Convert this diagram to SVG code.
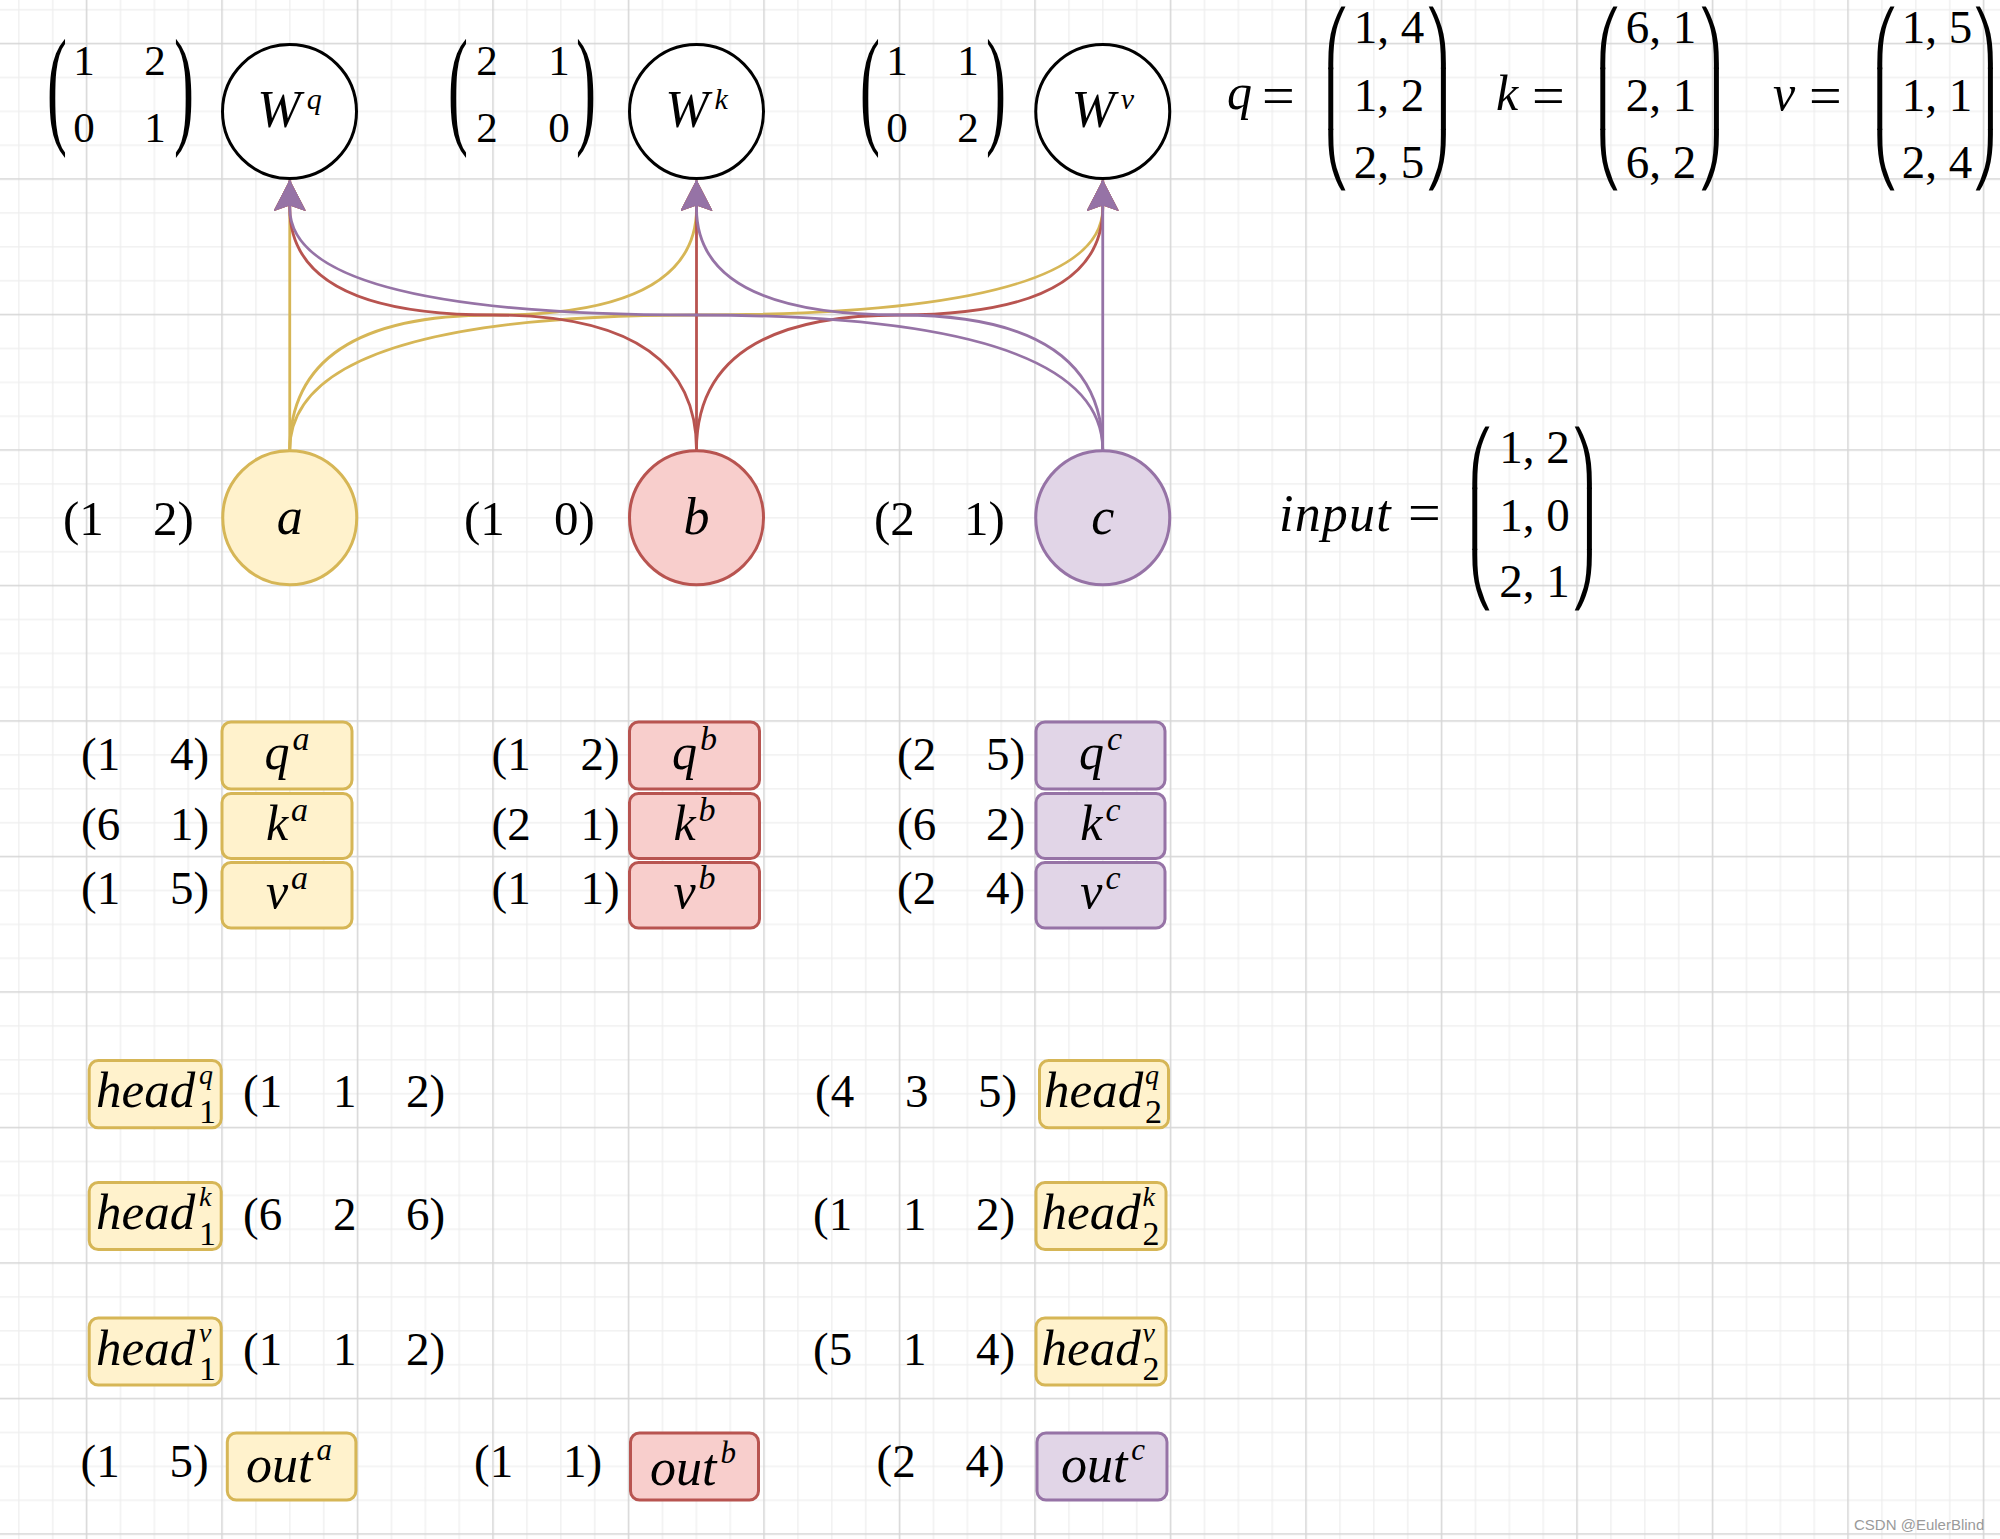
<svg xmlns="http://www.w3.org/2000/svg" width="2000" height="1539" viewBox="0 0 2000 1539">
<defs>
<pattern id="grid" x="85.75" y="42.75" width="135.5" height="135.5" patternUnits="userSpaceOnUse">
<rect x="0" y="0" width="135.5" height="135.5" fill="#ffffff"/>
<rect x="34.1" y="0" width="1.2" height="135.5" fill="#eeeeee"/>
<rect x="68" y="0" width="1.2" height="135.5" fill="#eeeeee"/>
<rect x="101.9" y="0" width="1.2" height="135.5" fill="#eeeeee"/>
<rect x="0" y="34.1" width="135.5" height="1.2" fill="#eeeeee"/>
<rect x="0" y="68" width="135.5" height="1.2" fill="#eeeeee"/>
<rect x="0" y="101.9" width="135.5" height="1.2" fill="#eeeeee"/>
<rect x="0" y="0" width="1.5" height="135.5" fill="#d6d6d6"/>
<rect x="0" y="0" width="135.5" height="1.5" fill="#d6d6d6"/>
</pattern>
<marker id="ay" markerUnits="userSpaceOnUse" viewBox="0 0 32 32" markerWidth="32" markerHeight="32" refX="30" refY="16" orient="auto"><path d="M30,16 L0,0.5 L5.5,16 L0,31.5 Z" fill="#d6b656" stroke="#d6b656" stroke-width="1"/></marker>
<marker id="ar" markerUnits="userSpaceOnUse" viewBox="0 0 32 32" markerWidth="32" markerHeight="32" refX="30" refY="16" orient="auto"><path d="M30,16 L0,0.5 L5.5,16 L0,31.5 Z" fill="#b85450" stroke="#b85450" stroke-width="1"/></marker>
<marker id="ap" markerUnits="userSpaceOnUse" viewBox="0 0 32 32" markerWidth="32" markerHeight="32" refX="30" refY="16" orient="auto"><path d="M30,16 L0,0.5 L5.5,16 L0,31.5 Z" fill="#9673a6" stroke="#9673a6" stroke-width="1"/></marker>
</defs>
<style>
.cw{fill:#ffffff;stroke:#000000;stroke-width:3}
.ny{fill:#fff2cc;stroke:#d6b656;stroke-width:3}
.nr{fill:#f8cecc;stroke:#b85450;stroke-width:3}
.np{fill:#e1d5e7;stroke:#9673a6;stroke-width:3}
.mi{font-family:"Liberation Serif","DejaVu Serif",serif;font-style:italic;fill:#000000}
.mn{font-family:"Liberation Serif","DejaVu Serif",serif;fill:#000000}
.bp{font-family:"DejaVu Sans","DejaVu Serif",sans-serif;font-size:52.4px;fill:#000000}
.up{font-style:normal}
.e{fill:none;stroke-width:2.8}
.ey{stroke:#d6b656;marker-end:url(#ay)}
.er{stroke:#b85450;marker-end:url(#ar)}
.ep{stroke:#9673a6;marker-end:url(#ap)}
.v46{font-size:47px}
.v48{font-size:49px}
</style>
<rect x="0" y="0" width="2000" height="1539" fill="url(#grid)"/>

<!-- weight matrices -->
<g id="mat-wq">
<text class="mn" transform="translate(47,130.4) scale(1,2.177)" font-size="60">(</text>
<text class="mn" x="84" y="75" font-size="43" text-anchor="middle">1</text>
<text class="mn" x="155" y="75" font-size="43" text-anchor="middle">2</text>
<text class="mn" x="84" y="141.5" font-size="43" text-anchor="middle">0</text>
<text class="mn" x="155" y="141.5" font-size="43" text-anchor="middle">1</text>
<text class="mn" transform="translate(174,130.4) scale(1,2.177)" font-size="60">)</text>
</g>
<g id="mat-wk">
<text class="mn" transform="translate(448,130.4) scale(1,2.177)" font-size="60">(</text>
<text class="mn" x="487" y="75" font-size="43" text-anchor="middle">2</text>
<text class="mn" x="559" y="75" font-size="43" text-anchor="middle">1</text>
<text class="mn" x="487" y="141.5" font-size="43" text-anchor="middle">2</text>
<text class="mn" x="559" y="141.5" font-size="43" text-anchor="middle">0</text>
<text class="mn" transform="translate(576,130.4) scale(1,2.177)" font-size="60">)</text>
</g>
<g id="mat-wv">
<text class="mn" transform="translate(860,130.4) scale(1,2.177)" font-size="60">(</text>
<text class="mn" x="897" y="75" font-size="43" text-anchor="middle">1</text>
<text class="mn" x="968" y="75" font-size="43" text-anchor="middle">1</text>
<text class="mn" x="897" y="141.5" font-size="43" text-anchor="middle">0</text>
<text class="mn" x="968" y="141.5" font-size="43" text-anchor="middle">2</text>
<text class="mn" transform="translate(986,130.4) scale(1,2.177)" font-size="60">)</text>
</g>

<!-- q k v input matrices -->
<g id="mat-q">
<text class="mi" x="1227" y="109" font-size="50">q<tspan class="mn up" x="1262" y="114.5" font-size="58">=</tspan></text>
<text class="bp"><tspan x="1324" y="55.6">⎛</tspan><tspan x="1324" y="116.6">⎜</tspan><tspan x="1324" y="177.6">⎝</tspan></text>
<text class="mn" x="1389" y="43" font-size="47" text-anchor="middle">1, 4</text>
<text class="mn" x="1389" y="110.5" font-size="47" text-anchor="middle">1, 2</text>
<text class="mn" x="1389" y="177.5" font-size="47" text-anchor="middle">2, 5</text>
<text class="bp"><tspan x="1424" y="55.6">⎞</tspan><tspan x="1424" y="116.6">⎟</tspan><tspan x="1424" y="177.6">⎠</tspan></text>
</g>
<g id="mat-k">
<text class="mi" x="1496" y="110" font-size="50">k<tspan class="mn up" x="1532" y="115" font-size="58">=</tspan></text>
<text class="bp"><tspan x="1596" y="55.6">⎛</tspan><tspan x="1596" y="116.6">⎜</tspan><tspan x="1596" y="177.6">⎝</tspan></text>
<text class="mn" x="1661" y="43" font-size="47" text-anchor="middle">6, 1</text>
<text class="mn" x="1661" y="110.5" font-size="47" text-anchor="middle">2, 1</text>
<text class="mn" x="1661" y="177.5" font-size="47" text-anchor="middle">6, 2</text>
<text class="bp"><tspan x="1697" y="55.6">⎞</tspan><tspan x="1697" y="116.6">⎟</tspan><tspan x="1697" y="177.6">⎠</tspan></text>
</g>
<g id="mat-v">
<text class="mi" x="1773" y="110" font-size="50">v<tspan class="mn up" x="1809" y="115" font-size="58">=</tspan></text>
<text class="bp"><tspan x="1873" y="55.6">⎛</tspan><tspan x="1873" y="116.6">⎜</tspan><tspan x="1873" y="177.6">⎝</tspan></text>
<text class="mn" x="1937" y="43" font-size="47" text-anchor="middle">1, 5</text>
<text class="mn" x="1937" y="110.5" font-size="47" text-anchor="middle">1, 1</text>
<text class="mn" x="1937" y="177.5" font-size="47" text-anchor="middle">2, 4</text>
<text class="bp"><tspan x="1971" y="55.6">⎞</tspan><tspan x="1971" y="116.6">⎟</tspan><tspan x="1971" y="177.6">⎠</tspan></text>
</g>
<g id="mat-input">
<text class="mi" x="1279" y="530.6" font-size="52" letter-spacing="1.2">input<tspan class="mn up" x="1408" y="532" font-size="58" letter-spacing="0">=</tspan></text>
<text class="bp"><tspan x="1468" y="476">⎛</tspan><tspan x="1468" y="537">⎜</tspan><tspan x="1468" y="598">⎝</tspan></text>
<text class="mn" x="1534.5" y="463" font-size="47" text-anchor="middle">1, 2</text>
<text class="mn" x="1534.5" y="530.6" font-size="47" text-anchor="middle">1, 0</text>
<text class="mn" x="1534.5" y="596.7" font-size="47" text-anchor="middle">2, 1</text>
<text class="bp"><tspan x="1570" y="476">⎞</tspan><tspan x="1570" y="537">⎟</tspan><tspan x="1570" y="598">⎠</tspan></text>
</g>

<!-- connectors -->
<g id="connectors">
<path class="e ey" d="M289.75,450 L289.75,180.5"/>
<path class="e ey" d="M289.75,450 Q289.75,315 493.1,315 Q696.5,315 696.5,208 L696.5,180.5"/>
<path class="e ey" d="M289.75,450 Q289.75,315 696.25,315 Q1102.75,315 1102.75,208 L1102.75,180.5"/>
<path class="e er" d="M696.5,450 Q696.5,315 493.1,315 Q289.75,315 289.75,208 L289.75,180.5"/>
<path class="e er" d="M696.5,450 L696.5,180.5"/>
<path class="e er" d="M696.5,450 Q696.5,315 899.6,315 Q1102.75,315 1102.75,208 L1102.75,180.5"/>
<path class="e ep" d="M1102.75,450 Q1102.75,315 696.25,315 Q289.75,315 289.75,208 L289.75,180.5"/>
<path class="e ep" d="M1102.75,450 Q1102.75,315 899.6,315 Q696.5,315 696.5,208 L696.5,180.5"/>
<path class="e ep" d="M1102.75,450 L1102.75,180.5"/>
</g>

<!-- weight nodes -->
<g id="node-wq">
<circle class="cw" cx="289.5" cy="111.5" r="67"/>
<text class="mi" x="289.5" y="127" font-size="52" text-anchor="middle">W<tspan font-size="30" dx="6" dy="-18">q</tspan></text>
</g>
<g id="node-wk">
<circle class="cw" cx="696.5" cy="111.5" r="67"/>
<text class="mi" x="696.5" y="127" font-size="52" text-anchor="middle">W<tspan font-size="30" dx="6" dy="-18">k</tspan></text>
</g>
<g id="node-wv">
<circle class="cw" cx="1102.75" cy="111.5" r="67"/>
<text class="mi" x="1102.75" y="127" font-size="52" text-anchor="middle">W<tspan font-size="30" dx="6" dy="-18">v</tspan></text>
</g>

<!-- input nodes -->
<g id="node-a">
<circle class="ny" cx="289.75" cy="517.7" r="67"/>
<text class="mi" x="289.75" y="534" font-size="52" text-anchor="middle">a</text>
</g>
<g id="node-b">
<circle class="nr" cx="696.5" cy="517.7" r="67"/>
<text class="mi" x="696.5" y="534" font-size="52" text-anchor="middle">b</text>
</g>
<g id="node-c">
<circle class="np" cx="1102.75" cy="517.7" r="67"/>
<text class="mi" x="1102.75" y="534" font-size="52" text-anchor="middle">c</text>
</g>
<g id="vec-a"><text class="mn v48" y="535"><tspan x="63">(1</tspan><tspan x="153">2)</tspan></text></g>
<g id="vec-b"><text class="mn v48" y="535"><tspan x="464">(1</tspan><tspan x="554">0)</tspan></text></g>
<g id="vec-c"><text class="mn v48" y="535"><tspan x="874">(2</tspan><tspan x="964">1)</tspan></text></g>

<!-- q k v boxes, column a -->
<g id="box-qa"><rect class="ny" x="222" y="722" width="130" height="67" rx="9"/><text class="mi" x="287" y="769" font-size="50" text-anchor="middle">q<tspan font-size="34" dx="3" dy="-19">a</tspan></text></g>
<g id="box-ka"><rect class="ny" x="222" y="793.5" width="130" height="65" rx="9"/><text class="mi" x="287" y="840" font-size="50" text-anchor="middle">k<tspan font-size="34" dx="3" dy="-19">a</tspan></text></g>
<g id="box-va"><rect class="ny" x="222" y="862.5" width="130" height="65.5" rx="9"/><text class="mi" x="287" y="908" font-size="50" text-anchor="middle">v<tspan font-size="34" dx="3" dy="-19">a</tspan></text></g>
<!-- column b -->
<g id="box-qb"><rect class="nr" x="629.5" y="722" width="130" height="67" rx="9"/><text class="mi" x="694.5" y="769" font-size="50" text-anchor="middle">q<tspan font-size="34" dx="3" dy="-19">b</tspan></text></g>
<g id="box-kb"><rect class="nr" x="629.5" y="793.5" width="130" height="65" rx="9"/><text class="mi" x="694.5" y="840" font-size="50" text-anchor="middle">k<tspan font-size="34" dx="3" dy="-19">b</tspan></text></g>
<g id="box-vb"><rect class="nr" x="629.5" y="862.5" width="130" height="65.5" rx="9"/><text class="mi" x="694.5" y="908" font-size="50" text-anchor="middle">v<tspan font-size="34" dx="3" dy="-19">b</tspan></text></g>
<!-- column c -->
<g id="box-qc"><rect class="np" x="1036" y="722" width="129" height="67" rx="9"/><text class="mi" x="1100.5" y="769" font-size="50" text-anchor="middle">q<tspan font-size="34" dx="3" dy="-19">c</tspan></text></g>
<g id="box-kc"><rect class="np" x="1036" y="793.5" width="129" height="65" rx="9"/><text class="mi" x="1100.5" y="840" font-size="50" text-anchor="middle">k<tspan font-size="34" dx="3" dy="-19">c</tspan></text></g>
<g id="box-vc"><rect class="np" x="1036" y="862.5" width="129" height="65.5" rx="9"/><text class="mi" x="1100.5" y="908" font-size="50" text-anchor="middle">v<tspan font-size="34" dx="3" dy="-19">c</tspan></text></g>

<!-- qkv vectors -->
<g id="vec-qa"><text class="mn v46" y="770"><tspan x="81">(1</tspan><tspan x="170">4)</tspan></text></g>
<g id="vec-ka"><text class="mn v46" y="840"><tspan x="81">(6</tspan><tspan x="170">1)</tspan></text></g>
<g id="vec-va"><text class="mn v46" y="904"><tspan x="81">(1</tspan><tspan x="170">5)</tspan></text></g>
<g id="vec-qb"><text class="mn v46" y="770"><tspan x="491.5">(1</tspan><tspan x="580.5">2)</tspan></text></g>
<g id="vec-kb"><text class="mn v46" y="840"><tspan x="491.5">(2</tspan><tspan x="580.5">1)</tspan></text></g>
<g id="vec-vb"><text class="mn v46" y="904"><tspan x="491.5">(1</tspan><tspan x="580.5">1)</tspan></text></g>
<g id="vec-qc"><text class="mn v46" y="770"><tspan x="897">(2</tspan><tspan x="986">5)</tspan></text></g>
<g id="vec-kc"><text class="mn v46" y="840"><tspan x="897">(6</tspan><tspan x="986">2)</tspan></text></g>
<g id="vec-vc"><text class="mn v46" y="904"><tspan x="897">(2</tspan><tspan x="986">4)</tspan></text></g>

<!-- heads -->
<g id="box-h1q"><rect class="ny" x="89.2" y="1060.5" width="132" height="67.3" rx="9"/><text class="mi" x="96" y="1107" font-size="51">head<tspan x="199" dy="-23" font-size="28">q</tspan><tspan class="up" x="199" dy="38.7" font-size="34">1</tspan></text></g>
<g id="box-h1k"><rect class="ny" x="89.2" y="1182.5" width="132" height="67" rx="9"/><text class="mi" x="96" y="1229" font-size="51">head<tspan x="199" dy="-23" font-size="28">k</tspan><tspan class="up" x="199" dy="38.7" font-size="34">1</tspan></text></g>
<g id="box-h1v"><rect class="ny" x="89.2" y="1318" width="132" height="67" rx="9"/><text class="mi" x="96" y="1364.7" font-size="51">head<tspan x="199" dy="-23" font-size="28">v</tspan><tspan class="up" x="199" dy="38.7" font-size="34">1</tspan></text></g>
<g id="box-h2q"><rect class="ny" x="1039.5" y="1060.5" width="129" height="67.3" rx="9"/><text class="mi" x="1044" y="1107" font-size="51">head<tspan x="1145" dy="-23" font-size="28">q</tspan><tspan class="up" x="1145" dy="38.7" font-size="34">2</tspan></text></g>
<g id="box-h2k"><rect class="ny" x="1036" y="1182.5" width="130" height="67" rx="9"/><text class="mi" x="1041.5" y="1229" font-size="51">head<tspan x="1142.5" dy="-23" font-size="28">k</tspan><tspan class="up" x="1142.5" dy="38.7" font-size="34">2</tspan></text></g>
<g id="box-h2v"><rect class="ny" x="1036" y="1318" width="130" height="67" rx="9"/><text class="mi" x="1041.5" y="1364.7" font-size="51">head<tspan x="1142.5" dy="-23" font-size="28">v</tspan><tspan class="up" x="1142.5" dy="38.7" font-size="34">2</tspan></text></g>

<g id="vec-h1q"><text class="mn v46" y="1107"><tspan x="243">(1</tspan><tspan x="333">1</tspan><tspan x="406">2)</tspan></text></g>
<g id="vec-h1k"><text class="mn v46" y="1230"><tspan x="243">(6</tspan><tspan x="333">2</tspan><tspan x="406">6)</tspan></text></g>
<g id="vec-h1v"><text class="mn v46" y="1365"><tspan x="243">(1</tspan><tspan x="333">1</tspan><tspan x="406">2)</tspan></text></g>
<g id="vec-h2q"><text class="mn v46" y="1107"><tspan x="815">(4</tspan><tspan x="905">3</tspan><tspan x="978">5)</tspan></text></g>
<g id="vec-h2k"><text class="mn v46" y="1230"><tspan x="813">(1</tspan><tspan x="903">1</tspan><tspan x="976">2)</tspan></text></g>
<g id="vec-h2v"><text class="mn v46" y="1365"><tspan x="813">(5</tspan><tspan x="903">1</tspan><tspan x="976">4)</tspan></text></g>

<!-- outputs -->
<g id="box-outa"><rect class="ny" x="227.3" y="1433" width="128.6" height="67" rx="9"/><text class="mi" x="289" y="1481.7" font-size="52" text-anchor="middle">out<tspan font-size="31" dx="4" dy="-22">a</tspan></text></g>
<g id="box-outb"><rect class="nr" x="630.5" y="1433" width="128" height="67" rx="9"/><text class="mi" x="693" y="1485" font-size="52" text-anchor="middle">out<tspan font-size="31" dx="4" dy="-22">b</tspan></text></g>
<g id="box-outc"><rect class="np" x="1037" y="1433" width="130" height="67" rx="9"/><text class="mi" x="1103" y="1481.7" font-size="52" text-anchor="middle">out<tspan font-size="31" dx="4" dy="-22">c</tspan></text></g>
<g id="vec-outa"><text class="mn v46" y="1477"><tspan x="80.6">(1</tspan><tspan x="169.6">5)</tspan></text></g>
<g id="vec-outb"><text class="mn v46" y="1477"><tspan x="474">(1</tspan><tspan x="563">1)</tspan></text></g>
<g id="vec-outc"><text class="mn v46" y="1477"><tspan x="876.5">(2</tspan><tspan x="965.5">4)</tspan></text></g>

<text x="1854" y="1529.5" font-family="Liberation Sans, Arial, sans-serif" font-size="15" fill="#9a9a9a">CSDN @EulerBlind</text>
</svg>
